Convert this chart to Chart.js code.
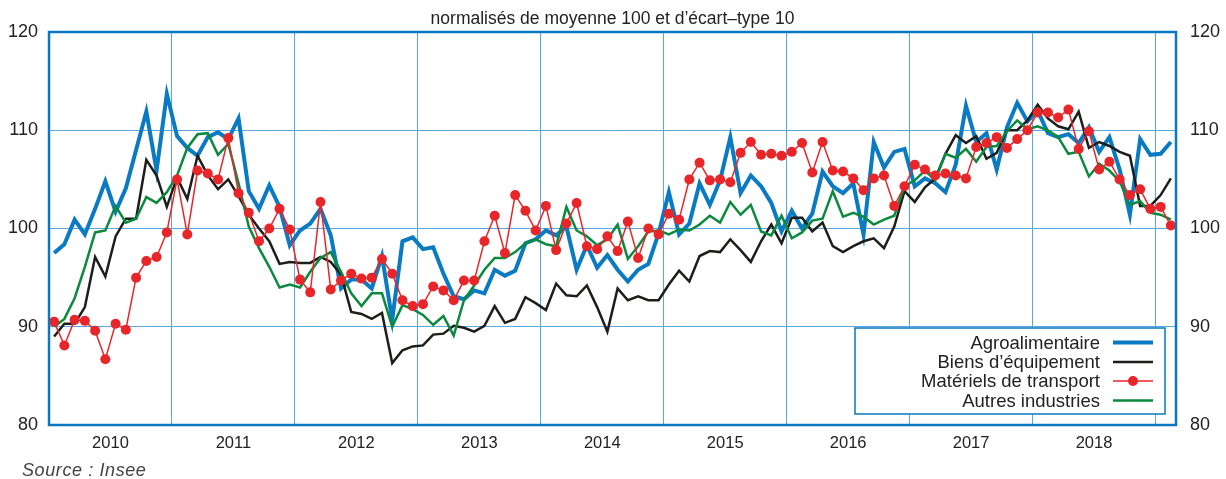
<!DOCTYPE html>
<html>
<head>
<meta charset="utf-8">
<script src="https://cdn.jsdelivr.net/npm/chart.js@4/dist/chart.umd.min.js"></script>
<style>
  html, body { margin: 0; padding: 0; background: #fff; }
  canvas { display: block; }
</style>
</head>
<body>
<canvas id="c" width="1226" height="479"></canvas>
<script>
// ---- data (monthly, Jan 2010 .. Feb 2019) ----
const startYear = 2010;
const nMonths = 110;
const months = [];
for (let i = 0; i < nMonths; i++) {
  const y = startYear + Math.floor(i / 12), m = (i % 12) + 1;
  months.push(y + '-' + (m < 10 ? '0' : '') + m);
}
const yearLabels = ['2010','2011','2012','2013','2014','2015','2016','2017','2018'];
const yTicks = [80, 90, 100, 110, 120];

const seriesNames = ['Agroalimentaire', 'Biens d\u2019\u00e9quipement', 'Mat\u00e9riels de transport', 'Autres industries'];

const agro = [
  97.5, 98.4, 100.9, 99.4, 102.0, 104.8, 101.7, 104.1, 108.0, 111.9, 105.9, 113.7,
  109.4, 108.2, 107.4, 109.3, 109.8, 109.1, 111.2, 103.8, 102.0, 104.4, 102.2, 98.3,
  99.8, 100.5, 102.0, 99.3, 93.9, 94.8, 94.8, 93.9, 97.2, 90.7, 98.7, 99.1,
  97.9, 98.1, 95.4, 93.1, 92.8, 93.7, 93.4, 95.8, 95.2, 95.7, 98.5, 98.9,
  99.8, 99.3, 100.2, 95.8, 98.3, 96.0, 97.3, 95.8, 94.6, 95.8, 96.4, 99.5,
  103.7, 99.4, 100.5, 104.6, 102.4, 104.9, 109.3, 103.6, 105.4, 104.3, 102.6, 99.7,
  101.8, 100.0, 101.5, 105.8, 104.3, 103.6, 104.6, 99.4, 108.8, 106.2, 107.8, 108.1,
  104.3, 105.1, 104.6, 103.7, 106.5, 112.5, 108.8, 109.7, 106.0, 110.3, 112.8, 110.9,
  112.0, 109.7, 109.3, 109.6, 108.7, 110.3, 107.8, 109.3, 106.0, 101.4, 109.1, 107.5,
  107.6, 108.8
];
const equipement = [
  89.0, 90.3, 90.3, 92.0, 97.1, 95.1, 99.2, 101.0, 101.0, 107.0, 105.4, 102.2,
  105.2, 103.0, 107.4, 105.4, 104.0, 105.0, 103.3, 101.4, 100.0, 98.7, 96.4, 96.6,
  96.5, 96.5, 97.1, 96.6, 95.3, 91.5, 91.3, 90.8, 91.4, 86.3, 87.6, 88.0,
  88.1, 89.2, 89.3, 90.1, 89.9, 89.5, 90.1, 92.1, 90.4, 90.8, 93.0, 92.4,
  91.7, 94.4, 93.2, 93.1, 94.2, 92.0, 89.5, 93.9, 92.7, 93.1, 92.7, 92.7,
  94.3, 95.7, 94.6, 97.2, 97.7, 97.6, 98.9, 97.8, 96.6, 98.7, 100.4, 98.5,
  101.1, 101.1, 99.7, 100.6, 98.2, 97.6, 98.2, 98.7, 99.0, 98.0, 100.2, 103.8,
  102.7, 104.2, 105.1, 107.6, 109.5, 108.7, 109.4, 107.1, 107.7, 110.0, 110.0, 111.0,
  112.6, 111.2, 110.4, 110.1, 111.9, 108.2, 108.8, 108.4, 107.8, 107.4, 102.3, 102.3,
  103.4, 105.1
];
const transport = [
  90.5, 88.1, 90.7, 90.6, 89.6, 86.7, 90.3, 89.7, 95.0, 96.7, 97.1, 99.6,
  105.0, 99.4, 105.9, 105.6, 105.0, 109.2, 103.6, 101.6, 98.7, 100.0, 102.0, 99.9,
  94.8, 93.5, 102.7, 93.8, 94.7, 95.4, 94.9, 95.0, 96.9, 95.4, 92.7, 92.1,
  92.3, 94.1, 93.7, 92.7, 94.7, 94.7, 98.7, 101.3, 97.5, 103.4, 101.8, 99.8,
  102.3, 97.8, 100.5, 102.6, 98.2, 97.9, 99.2, 97.7, 100.7, 97.0, 100.0, 99.4,
  101.5, 100.9, 105.0, 106.7, 104.9, 105.0, 104.7, 107.7, 108.8, 107.5, 107.6, 107.4,
  107.8, 108.7, 105.7, 108.8, 105.9, 105.8, 105.1, 103.9, 105.1, 105.4, 102.3, 104.3,
  106.5, 106.0, 105.4, 105.6, 105.4, 105.1, 108.3, 108.7, 109.3, 108.2, 109.1, 110.0,
  111.8, 111.8, 111.3, 112.1, 108.1, 109.9, 106.0, 106.8, 105.0, 103.4, 104.0, 102.0,
  102.2, 100.3
];
const autres = [
  90.0, 90.8, 92.9, 96.1, 99.6, 99.8, 102.3, 100.6, 101.0, 103.2, 102.6, 103.7,
  105.4, 108.2, 109.6, 109.7, 107.5, 108.6, 104.6, 100.2, 98.0, 96.1, 94.0, 94.3,
  94.0, 95.6, 97.0, 97.6, 95.6, 93.4, 92.1, 93.4, 93.4, 90.0, 92.2, 91.8,
  91.2, 90.2, 91.1, 89.1, 92.7, 94.2, 95.8, 97.0, 97.0, 97.6, 98.5, 98.9,
  98.4, 98.2, 102.2, 99.8, 99.2, 98.3, 98.9, 100.4, 96.9, 98.2, 99.7, 99.8,
  99.4, 99.9, 99.8, 100.4, 101.3, 100.6, 102.7, 101.4, 102.4, 99.7, 99.3, 101.3,
  99.0, 99.6, 100.8, 101.0, 103.8, 101.2, 101.6, 101.2, 100.4, 100.9, 101.3, 104.3,
  104.9, 105.9, 104.9, 107.6, 107.2, 108.1, 106.8, 108.3, 108.4, 109.9, 111.0, 110.1,
  110.4, 110.0, 109.3, 107.6, 107.8, 105.3, 106.6, 105.9, 104.8, 102.4, 102.8, 101.6,
  101.4, 100.9
];

// ---- styles ----
const BLUE = '#0a7bc2', BLACK = '#1d1d1b', RED = '#e8262a', GREEN = '#0b8a3e';
const GRID = '#5aa9de', FRAME = '#0a78c0', TXT = '#222222';
const FONT = '"Liberation Sans", Arial, Helvetica, sans-serif';

const toXY = arr => arr.map((v, i) => ({ x: i + 0.5, y: v }));

const decorPlugin = {
  id: 'decor',
  afterDraw(chart) {
    const ctx = chart.ctx, a = chart.chartArea;
    ctx.save();
    // frame
    ctx.strokeStyle = FRAME; ctx.lineWidth = 2.5;
    ctx.strokeRect(a.left, a.top, a.right - a.left, a.bottom - a.top);
    // title
    ctx.fillStyle = TXT;
    ctx.font = '17.5px ' + FONT;
    ctx.textAlign = 'center'; ctx.textBaseline = 'alphabetic';
    ctx.fillText('normalis\u00e9s de moyenne 100 et d\u2019\u00e9cart\u2013type 10', (a.left + a.right) / 2, 24);
    // source
    ctx.fillStyle = '#444';
    ctx.font = 'italic 18px ' + FONT;
    ctx.textAlign = 'left';
    try { ctx.letterSpacing = '0.6px'; } catch (e) {}
    ctx.fillText('Source : Insee', 22, 476);
    try { ctx.letterSpacing = '0px'; } catch (e) {}
    // legend
    const bx = 855, by = 328, bw = 310, bh = 86;
    ctx.fillStyle = '#fff';
    ctx.fillRect(bx, by, bw, bh);
    ctx.strokeStyle = FRAME; ctx.lineWidth = 1.5;
    ctx.strokeRect(bx, by, bw, bh);
    const rows = [342.5, 362, 381, 400.5];
    const styles = [
      { c: BLUE, w: 4, dot: false }, { c: BLACK, w: 2.5, dot: false },
      { c: RED, w: 1.5, dot: true }, { c: GREEN, w: 2.5, dot: false }
    ];
    ctx.font = '18.5px ' + FONT;
    ctx.textAlign = 'right'; ctx.textBaseline = 'middle';
    for (let k = 0; k < 4; k++) {
      ctx.fillStyle = TXT;
      ctx.fillText(seriesNames[k], 1100, rows[k] + 1);
      ctx.strokeStyle = styles[k].c; ctx.lineWidth = styles[k].w;
      ctx.beginPath(); ctx.moveTo(1113, rows[k]); ctx.lineTo(1153, rows[k]); ctx.stroke();
      if (styles[k].dot) {
        ctx.fillStyle = styles[k].c;
        ctx.beginPath(); ctx.arc(1133, rows[k], 5, 0, Math.PI * 2); ctx.fill();
      }
    }
    ctx.restore();
  }
};

new Chart(document.getElementById('c'), {
  type: 'line',
  data: {
    datasets: [
      { label: seriesNames[0], data: toXY(agro), borderColor: BLUE, borderWidth: 4, pointRadius: 0, order: 3 },
      { label: seriesNames[1], data: toXY(equipement), borderColor: BLACK, borderWidth: 2.5, pointRadius: 0, order: 2 },
      { label: seriesNames[2], data: toXY(transport), borderColor: RED, borderWidth: 1.5, pointRadius: 5,
        pointBackgroundColor: RED, pointBorderWidth: 0, order: 0 },
      { label: seriesNames[3], data: toXY(autres), borderColor: GREEN, borderWidth: 2.5, pointRadius: 0, order: 1 }
    ]
  },
  options: {
    responsive: false,
    animation: false,
    devicePixelRatio: 1,
    layout: { padding: { top: 32, left: 0, right: 0, bottom: 0 } },
    elements: { line: { tension: 0, borderJoinStyle: 'miter', borderCapStyle: 'butt' } },
    plugins: { legend: { display: false }, title: { display: false }, tooltip: { enabled: false } },
    scales: {
      x: {
        type: 'linear', min: 0, max: nMonths,
        afterBuildTicks: s => {
          const t = [];
          for (let k = 0; k <= 9; k++) {
            t.push({ value: k * 12 });
            if (k < yearLabels.length) t.push({ value: k * 12 + 6 });
          }
          s.ticks = t;
        },
        ticks: {
          autoSkip: false, maxRotation: 0, minRotation: 0, padding: 9,
          font: { size: 16.5, family: FONT }, color: TXT,
          callback: v => (v % 12 === 6 ? yearLabels[(v - 6) / 12] : '')
        },
        grid: {
          color: c => (c.tick && c.tick.value % 12 === 0 && c.tick.value > 0 ? GRID : 'rgba(0,0,0,0)'),
          lineWidth: 1, drawTicks: false
        },
        border: { display: false },
        afterFit: s => { s.height = 54; }
      },
      y: {
        position: 'left', min: 80, max: 120,
        afterBuildTicks: s => { s.ticks = yTicks.map(v => ({ value: v })); },
        ticks: { padding: 11, font: { size: 18, family: FONT }, color: TXT },
        grid: {
          color: c => (c.tick && (c.tick.value === 80 || c.tick.value === 120) ? 'rgba(0,0,0,0)' : GRID),
          lineWidth: 1, drawTicks: false
        },
        border: { display: false },
        afterFit: s => { s.width = 49; }
      },
      y2: {
        position: 'right', min: 80, max: 120,
        afterBuildTicks: s => { s.ticks = yTicks.map(v => ({ value: v })); },
        ticks: { padding: 14, font: { size: 18, family: FONT }, color: TXT },
        grid: { display: false, drawTicks: false },
        border: { display: false },
        afterFit: s => { s.width = 50; }
      }
    }
  },
  plugins: [decorPlugin]
});
</script>
</body>
</html>
